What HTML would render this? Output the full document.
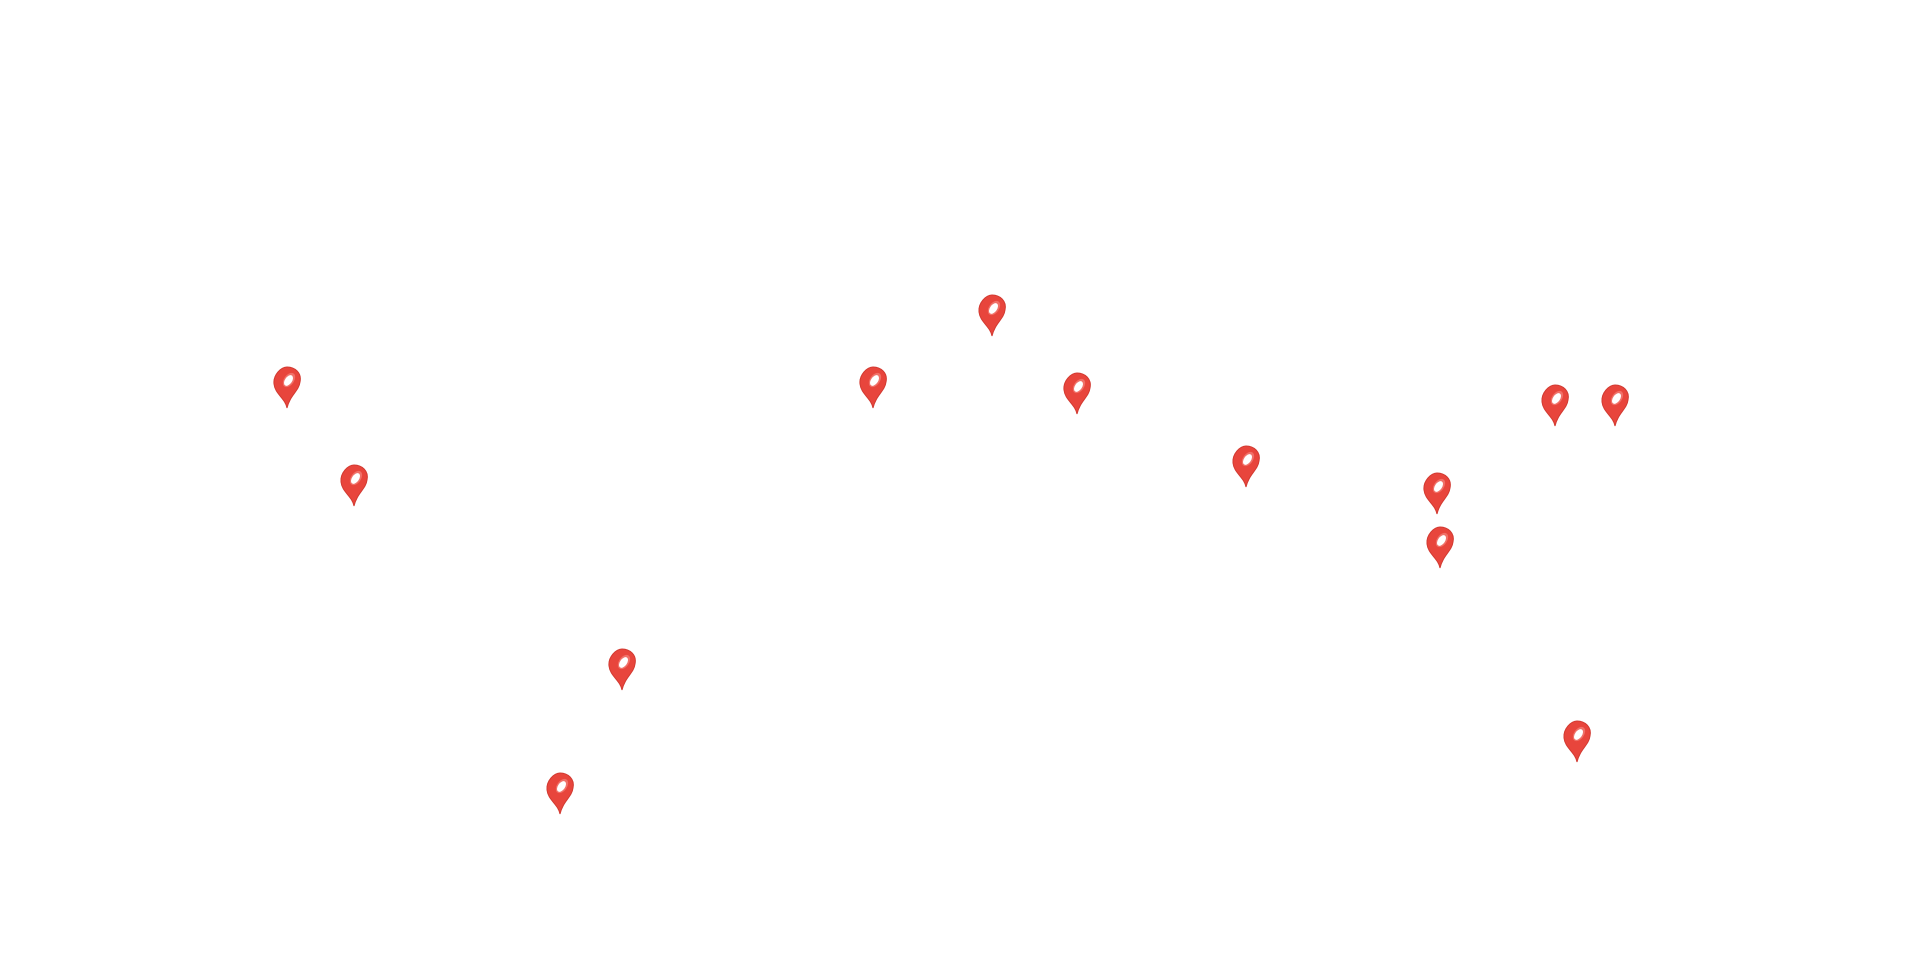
<!DOCTYPE html>
<html><head><meta charset="utf-8"><style>
html,body{margin:0;padding:0;background:#fff;width:1920px;height:966px;overflow:hidden}
svg.m{position:absolute;width:30px;height:44px}
</style></head><body>
<svg width="0" height="0" style="position:absolute"><defs>
<g id="pin">
<path d="M15,43 C13,33 3,29 2,19 C1,10 9,2 15,2 C23,2 30,8 28,17 C27,26 18,30 15,43Z" fill="#e8453c" stroke="#d23a31" stroke-width="1"/>
<ellipse cx="17" cy="15" rx="5" ry="8" transform="rotate(35 17 15)" fill="#f07068"/>
<ellipse cx="16.5" cy="15.5" rx="3.5" ry="6" transform="rotate(35 16.5 15.5)" fill="#fff"/>
</g></defs></svg>
<svg class="m" style="left:272px;top:365px" viewBox="0 0 30 44"><use href="#pin"/></svg>
<svg class="m" style="left:339px;top:463px" viewBox="0 0 30 44"><use href="#pin"/></svg>
<svg class="m" style="left:858px;top:365px" viewBox="0 0 30 44"><use href="#pin"/></svg>
<svg class="m" style="left:977px;top:293px" viewBox="0 0 30 44"><use href="#pin"/></svg>
<svg class="m" style="left:1062px;top:371px" viewBox="0 0 30 44"><use href="#pin"/></svg>
<svg class="m" style="left:1231px;top:444px" viewBox="0 0 30 44"><use href="#pin"/></svg>
<svg class="m" style="left:1540px;top:383px" viewBox="0 0 30 44"><use href="#pin"/></svg>
<svg class="m" style="left:1600px;top:383px" viewBox="0 0 30 44"><use href="#pin"/></svg>
<svg class="m" style="left:1422px;top:471px" viewBox="0 0 30 44"><use href="#pin"/></svg>
<svg class="m" style="left:1425px;top:525px" viewBox="0 0 30 44"><use href="#pin"/></svg>
<svg class="m" style="left:607px;top:647px" viewBox="0 0 30 44"><use href="#pin"/></svg>
<svg class="m" style="left:545px;top:771px" viewBox="0 0 30 44"><use href="#pin"/></svg>
<svg class="m" style="left:1562px;top:719px" viewBox="0 0 30 44"><use href="#pin"/></svg>
</body></html>
